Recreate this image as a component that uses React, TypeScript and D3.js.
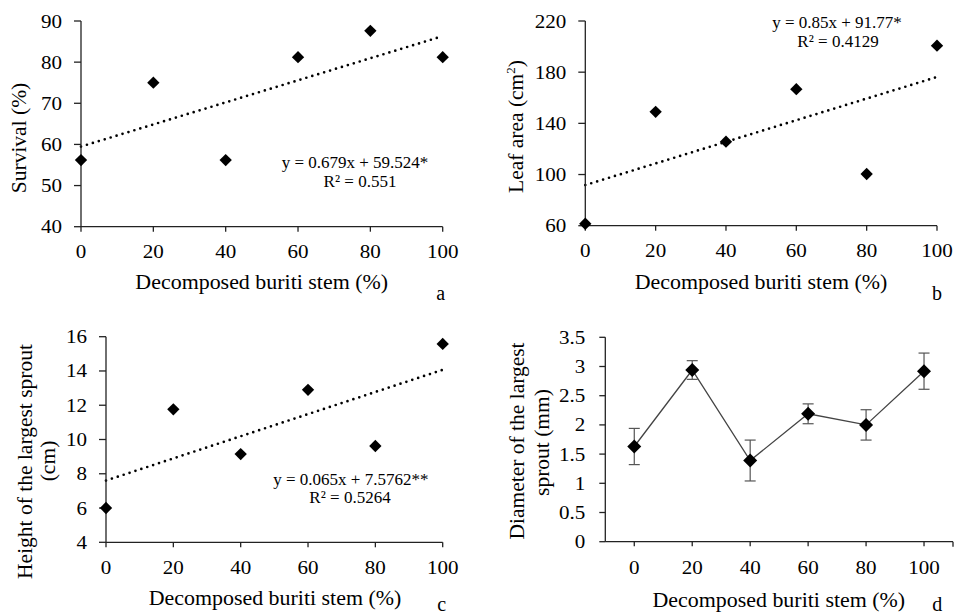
import React from 'react';
import * as d3 from 'd3';

// decomposed buriti stem (%) levels
const stems = [0, 20, 40, 60, 80, 100];

// values
const survival = [56.2, 75, 56.2, 81.2, 87.6, 81.2];
const leafArea = [61.5, 149, 125.7, 166.7, 100.4, 200.7];
const sproutHeight = [6, 11.76, 9.15, 12.9, 9.62, 15.58];
const sproutDiameter = [1.63, 2.94, 1.39, 2.19, 2.0, 2.92];
const diameterErr = [0.31, 0.16, 0.35, 0.17, 0.26, 0.31];

const xTicks = [0, 20, 40, 60, 80, 100];
const survivalTicks = [40, 50, 60, 70, 80, 90];
const leafTicks = [60, 100, 140, 180, 220];
const heightTicks = [4, 6, 8, 10, 12, 14, 16];
const diameterTicks = [0, 0.5, 1, 1.5, 2, 2.5, 3, 3.5];

const FONT = '"Liberation Serif", "Times New Roman", serif';
const INK = '#222';

const fit = (xs: number[], ys: number[]) => {
  const mx = d3.mean(xs)!;
  const my = d3.mean(ys)!;
  const b = d3.sum(xs.map((x, i) => (x - mx) * (ys[i] - my))) / d3.sum(xs.map(x => (x - mx) ** 2));
  return { b, a: my - b * mx };
};

const diamond = (size: number) => d3.symbol().type(d3.symbolSquare).size(size)()!;

const T = ({ x, y, size, sx = 1, anchor = 'middle', rotate = false, children }: any) => (
  <text
    transform={`translate(${x},${y}) scale(${sx},1)${rotate ? ' rotate(-90)' : ''}`}
    fontSize={size}
    textAnchor={anchor}
    fontFamily={FONT}
    fill="#000"
  >
    {children}
  </text>
);

const Scatter = ({ xr, yd, yr, yTicks, values, eq, xTitle, yTitle, letter }: any) => {
  const x = d3.scaleLinear().domain([0, 100]).range(xr);
  const y = d3.scaleLinear().domain(yd).range(yr);
  const { a, b } = fit(stems, values);
  const trend = d3.line<number>().x(d => x(d)).y(d => y(a + b * d));
  const x0 = xr[0];
  const y0 = yr[0];
  return (
    <g>
      <path d={trend([0, 100]) || ''} fill="none" stroke="#000" strokeWidth={2.7}
        strokeDasharray="0 6.2" strokeLinecap="round" />
      <line x1={x0} x2={x0} y1={yr[1]} y2={y0} stroke={INK} strokeWidth={1.3} />
      <line x1={x0} x2={xr[1]} y1={y0} y2={y0} stroke={INK} strokeWidth={1.3} />
      {yTicks.map((t: number) => (
        <g key={'y' + t}>
          <line x1={x0 - 7} x2={x0} y1={y(t)} y2={y(t)} stroke={INK} strokeWidth={1.3} />
          <T x={x0 - 19} y={y(t) + 6.5} size={19.5} sx={1.08} anchor="end">{t}</T>
        </g>
      ))}
      {xTicks.map(t => (
        <g key={'x' + t}>
          <line x1={x(t)} x2={x(t)} y1={y0} y2={y0 + 5} stroke={INK} strokeWidth={1.3} />
          <T x={x(t)} y={y0 + 31.7} size={19.5} sx={1.08}>{t}</T>
        </g>
      ))}
      {stems.map((s, i) => (
        <path key={'p' + s} d={diamond(76)} transform={`translate(${x(s)},${y(values[i])}) rotate(45)`} fill="#000" />
      ))}
      {eq.map((e: any, i: number) => (
        <T key={'e' + i} x={e.x} y={e.y} size={17}>{e.text}</T>
      ))}
      <T x={xTitle.x} y={xTitle.y} size={20.5} sx={1.07}>Decomposed buriti stem (%)</T>
      {yTitle}
      <T x={letter.x} y={letter.y} size={20}>{letter.text}</T>
    </g>
  );
};

const DiameterPanel = () => {
  const x = d3.scaleBand<number>().domain(stems).range([605.3, 953]);
  const cx = (s: number) => x(s)! + x.bandwidth() / 2;
  const y = d3.scaleLinear().domain([0, 3.5]).range([541.7, 337.3]);
  const line = d3.line<number>().x((d, i) => cx(stems[i])).y(d => y(d));
  const x0 = 605.3;
  const y0 = 541.7;
  return (
    <g>
      <line x1={x0} x2={x0} y1={337.3} y2={y0} stroke={INK} strokeWidth={1.3} />
      <line x1={x0} x2={953} y1={y0} y2={y0} stroke={INK} strokeWidth={1.3} />
      <line x1={953} x2={953} y1={y0} y2={y0 + 5} stroke={INK} strokeWidth={1.3} />
      {diameterTicks.map(t => (
        <g key={'y' + t}>
          <line x1={x0 - 6} x2={x0} y1={y(t)} y2={y(t)} stroke={INK} strokeWidth={1.3} />
          <T x={x0 - 20} y={y(t) + 6.5} size={19.5} sx={1.08} anchor="end">{t}</T>
        </g>
      ))}
      {stems.map(s => (
        <g key={'x' + s}>
          <line x1={cx(s)} x2={cx(s)} y1={y0} y2={y0 + 4.5} stroke={INK} strokeWidth={1.3} />
          <T x={cx(s)} y={y0 + 32.3} size={19.5} sx={1.08}>{s}</T>
        </g>
      ))}
      <path d={line(sproutDiameter) || ''} fill="none" stroke="#444" strokeWidth={1.3} />
      {stems.map((s, i) => {
        const lo = y(sproutDiameter[i] - diameterErr[i]);
        const hi = y(sproutDiameter[i] + diameterErr[i]);
        return (
          <g key={'e' + s} stroke="#555" strokeWidth={1.2}>
            <line x1={cx(s)} x2={cx(s)} y1={lo} y2={hi} />
            <line x1={cx(s) - 5.5} x2={cx(s) + 5.5} y1={lo} y2={lo} />
            <line x1={cx(s) - 5.5} x2={cx(s) + 5.5} y1={hi} y2={hi} />
          </g>
        );
      })}
      {stems.map((s, i) => (
        <path key={'p' + s} d={diamond(98)} transform={`translate(${cx(s)},${y(sproutDiameter[i])}) rotate(45)`} fill="#000" />
      ))}
      <T x={524} y={441} size={21.5} rotate>Diameter of the largest</T>
      <T x={549} y={442.5} size={21.5} rotate>sprout (mm)</T>
      <T x={778.8} y={606.7} size={20.5} sx={1.07}>Decomposed buriti stem (%)</T>
      <T x={937.3} y={611} size={20}>d</T>
    </g>
  );
};

export default function App() {
  return (
    <svg width={956} height={616} style={{ position: 'absolute', left: 0, top: 0, background: '#fff' }}>
      <rect width={956} height={616} fill="#fff" />
      <Scatter
        xr={[81, 442.7]} yd={[40, 90]} yr={[226.7, 21]} yTicks={survivalTicks} values={survival}
        eq={[{ x: 355, y: 168, text: 'y = 0.679x + 59.524*' }, { x: 360, y: 187, text: 'R² = 0.551' }]}
        xTitle={{ x: 261.7, y: 289.3 }}
        yTitle={<T x={26} y={138} size={21.5} rotate>Survival (%)</T>}
        letter={{ x: 440.7, y: 300, text: 'a' }}
      />
      <Scatter
        xr={[585.3, 937]} yd={[60, 220]} yr={[225.7, 21]} yTicks={leafTicks} values={leafArea}
        eq={[{ x: 837, y: 28, text: 'y = 0.85x + 91.77*' }, { x: 838, y: 46.7, text: 'R² = 0.4129' }]}
        xTitle={{ x: 761, y: 289.3 }}
        yTitle={
          <T x={522.7} y={126.5} size={21.5} rotate>
            Leaf area (cm<tspan fontSize={13} dy={-8}>2</tspan><tspan dy={8}>)</tspan>
          </T>
        }
        letter={{ x: 937, y: 300, text: 'b' }}
      />
      <Scatter
        xr={[106, 442.7]} yd={[4, 16]} yr={[542.3, 336.7]} yTicks={heightTicks} values={sproutHeight}
        eq={[{ x: 350.8, y: 485, text: 'y = 0.065x + 7.5762**' }, { x: 350, y: 503.3, text: 'R² = 0.5264' }]}
        xTitle={{ x: 275, y: 605 }}
        yTitle={
          <g>
            <T x={32} y={461.5} size={21.5} rotate>Height of the  largest sprout</T>
            <T x={55} y={461} size={21.5} rotate>(cm)</T>
          </g>
        }
        letter={{ x: 441.7, y: 611, text: 'c' }}
      />
      <DiameterPanel />
    </svg>
  );
}
